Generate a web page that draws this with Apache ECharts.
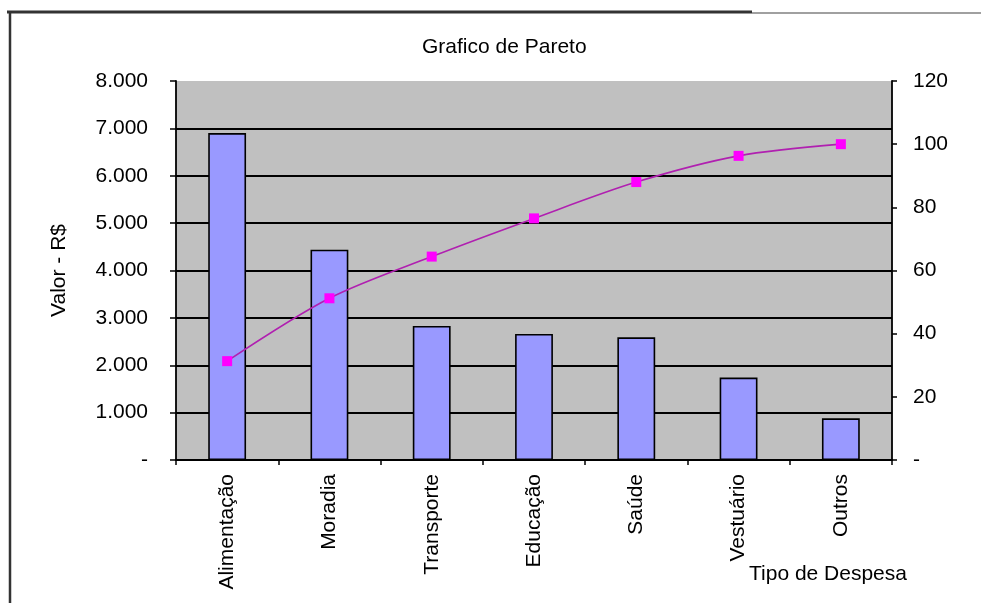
<!DOCTYPE html>
<html>
<head>
<meta charset="utf-8">
<script src="https://cdn.jsdelivr.net/npm/echarts@6/dist/echarts.min.js"></script>
<style>html,body{margin:0;padding:0;background:#fff}#c{width:981px;height:603px}</style>
</head>
<body>
<div id="c"></div>
<script>
const categories = ['Alimentação','Moradia','Transporte','Educação','Saúde','Vestuário','Outros'];
const valores = [6900, 4440, 2830, 2660, 2590, 1740, 880];
const acumulado = [31.3, 51.2, 64.4, 76.5, 88.0, 96.3, 100];
const leftTicks = [0, 8000, 1000];
const rightTicks = [0, 120, 20];

const FONT = '"Liberation Sans", Arial, sans-serif';
const FS = 21;
const chart = echarts.init(document.getElementById('c'));
const gridColors = ['#000','#000','#000','#000','#000','#000','#000','#000','rgba(0,0,0,0)'];

chart.setOption({
  animation: false,
  backgroundColor: '#ffffff',
  textStyle: { fontFamily: FONT, color: '#000' },
  title: {
    text: 'Grafico de Pareto',
    left: 417, top: 32,
    textStyle: { fontFamily: FONT, fontSize: FS, fontWeight: 'normal', color: '#000' }
  },
  grid: {
    left: 176, right: 89, top: 81, bottom: 143,
    show: true, backgroundColor: '#C0C0C0', borderWidth: 0
  },
  xAxis: {
    type: 'category',
    data: categories,
    boundaryGap: true,
    axisLine: { show: true, lineStyle: { color: '#000', width: 1.8 } },
    axisTick: { show: true, length: 5, lineStyle: { color: '#000', width: 1.5 } },
    axisLabel: { rotate: 90, margin: 14, fontSize: FS, fontFamily: FONT, color: '#000', interval: 0 },
    splitLine: { show: false }
  },
  yAxis: [
    {
      type: 'value', min: leftTicks[0], max: leftTicks[1], interval: leftTicks[2],
      name: 'Valor - R$', nameLocation: 'middle', nameGap: 106,
      nameTextStyle: { fontSize: FS, fontFamily: FONT, color: '#000' },
      axisLine: { show: true, lineStyle: { color: '#000', width: 1.8 } },
      axisTick: { show: true, length: 6, lineStyle: { color: '#000', width: 1.5 } },
      axisLabel: {
        margin: 28, fontSize: FS, fontFamily: FONT, color: '#000',
        formatter: v => v === 0 ? '-' : (v / 1000) + '.000'
      },
      splitLine: { show: true, lineStyle: { color: gridColors, width: 2 } }
    },
    {
      type: 'value', min: rightTicks[0], max: rightTicks[1], interval: rightTicks[2],
      position: 'right',
      axisLine: { show: true, lineStyle: { color: '#000', width: 1.8 } },
      axisTick: { show: true, length: 5, lineStyle: { color: '#000', width: 1.5 } },
      axisLabel: {
        margin: 21, fontSize: FS, fontFamily: FONT, color: '#000',
        formatter: v => v === 0 ? '-' : String(v)
      },
      splitLine: { show: false }
    }
  ],
  series: [
    {
      type: 'bar', data: valores, yAxisIndex: 0, barWidth: '37%',
      itemStyle: { color: '#9999FF', borderColor: '#000', borderWidth: 1.6 }
    },
    {
      type: 'line', data: acumulado, yAxisIndex: 1, smooth: 0.3,
      symbol: 'rect', symbolSize: 10,
      lineStyle: { color: '#B020B0', width: 1.6 },
      itemStyle: { color: '#FF00FF', borderWidth: 0 }
    }
  ],
  graphic: [
    { type: 'line', shape: { x1: 7, y1: 12, x2: 752, y2: 12 }, style: { stroke: '#333', lineWidth: 3 } },
    { type: 'line', shape: { x1: 752, y1: 13, x2: 981, y2: 13 }, style: { stroke: '#A0A0A0', lineWidth: 2 } },
    { type: 'line', shape: { x1: 10, y1: 11, x2: 10, y2: 603 }, style: { stroke: '#333', lineWidth: 2.5 } },
    { type: 'text', left: 749, top: 564, style: { text: 'Tipo de Despesa', font: FS + 'px ' + FONT, fill: '#000' } }
  ]
});
</script>
</body>
</html>
